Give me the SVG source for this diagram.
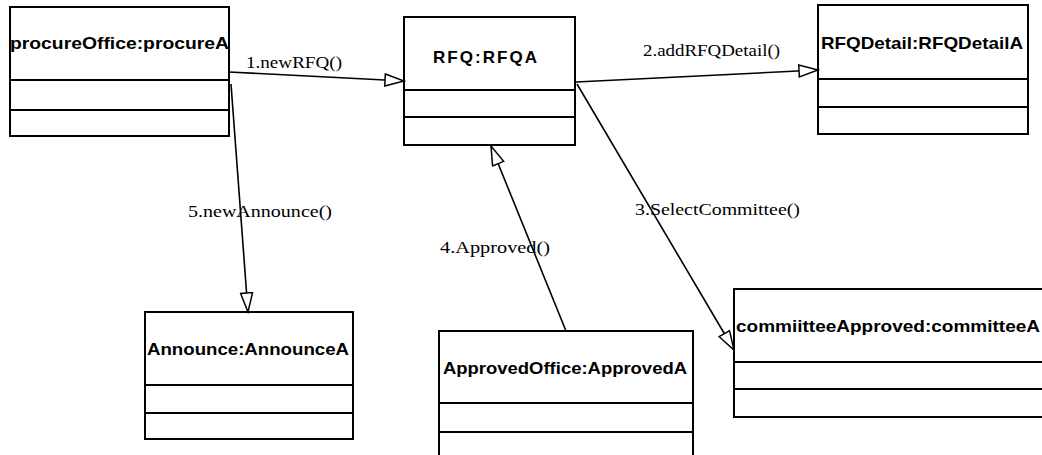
<svg xmlns="http://www.w3.org/2000/svg" width="1042" height="455" viewBox="0 0 1042 455">
<style>
.box{fill:#fff;stroke:#000;stroke-width:2}
.div{stroke:#000;stroke-width:2}
.name{font-family:"Liberation Sans",Arial,sans-serif;font-weight:bold;font-size:17px;fill:#000}
.lbl{font-family:"Liberation Serif","Times New Roman",serif;font-size:16px;fill:#000}
.con{stroke:#000;stroke-width:1.6;fill:none;marker-end:url(#tri)}
</style>
<defs>
<marker id="tri" markerUnits="userSpaceOnUse" markerWidth="22" markerHeight="16" refX="20" refY="7" orient="auto">
<path d="M1,1 L20,7 L1,13 z" fill="#fff" stroke="#000" stroke-width="1.5"/>
</marker>
</defs>
<rect width="1042" height="455" fill="#fff"/>
<g id="procureOffice">
<rect class="box" x="10" y="7" width="219" height="129"/>
<line class="div" x1="10" y1="80" x2="229" y2="80"/>
<line class="div" x1="10" y1="110" x2="229" y2="110"/>
<text class="name" x="10" y="49" textLength="219" lengthAdjust="spacingAndGlyphs">procureOffice:procureA</text>
</g>
<g id="RFQ">
<rect class="box" x="404" y="17" width="171" height="128"/>
<line class="div" x1="404" y1="90" x2="575" y2="90"/>
<line class="div" x1="404" y1="117" x2="575" y2="117"/>
<text class="name" x="433" y="63" textLength="104" lengthAdjust="spacing">RFQ:RFQA</text>
</g>
<g id="RFQDetail">
<rect class="box" x="818" y="5" width="210" height="129"/>
<line class="div" x1="818" y1="79" x2="1028" y2="79"/>
<line class="div" x1="818" y1="107" x2="1028" y2="107"/>
<text class="name" x="821" y="49" textLength="202" lengthAdjust="spacingAndGlyphs">RFQDetail:RFQDetailA</text>
</g>
<g id="Announce">
<rect class="box" x="145" y="312" width="208" height="127"/>
<line class="div" x1="145" y1="385" x2="353" y2="385"/>
<line class="div" x1="145" y1="413" x2="353" y2="413"/>
<text class="name" x="147" y="355" textLength="202" lengthAdjust="spacingAndGlyphs">Announce:AnnounceA</text>
</g>
<g id="ApprovedOffice">
<rect class="box" x="439" y="331" width="254" height="140"/>
<line class="div" x1="439" y1="403" x2="693" y2="403"/>
<line class="div" x1="439" y1="432" x2="693" y2="432"/>
<text class="name" x="443" y="374" textLength="244" lengthAdjust="spacingAndGlyphs">ApprovedOffice:ApprovedA</text>
</g>
<g id="committeeApproved">
<rect class="box" x="734" y="289" width="320" height="128"/>
<line class="div" x1="734" y1="362" x2="1054" y2="362"/>
<line class="div" x1="734" y1="389" x2="1054" y2="389"/>
<text class="name" x="736" y="332" textLength="304" lengthAdjust="spacingAndGlyphs">commiitteeApproved:committeeA</text>
</g>
<g id="connectors">
<line class="con" x1="229" y1="72" x2="404" y2="81"/>
<line class="con" x1="576" y1="82" x2="818" y2="70"/>
<line class="con" x1="577" y1="84" x2="734" y2="350"/>
<line class="con" x1="566" y1="331" x2="491" y2="146"/>
<line class="con" x1="231" y1="84" x2="248" y2="312"/>
<text class="lbl" x="246" y="68" textLength="96" lengthAdjust="spacingAndGlyphs">1.newRFQ()</text>
<text class="lbl" x="643" y="56" textLength="137" lengthAdjust="spacingAndGlyphs">2.addRFQDetail()</text>
<text class="lbl" x="635" y="215" textLength="165" lengthAdjust="spacingAndGlyphs">3.SelectCommittee()</text>
<text class="lbl" x="440" y="253" textLength="110" lengthAdjust="spacingAndGlyphs">4.Approved()</text>
<text class="lbl" x="188" y="217" textLength="144" lengthAdjust="spacingAndGlyphs">5.newAnnounce()</text>
</g>
</svg>
